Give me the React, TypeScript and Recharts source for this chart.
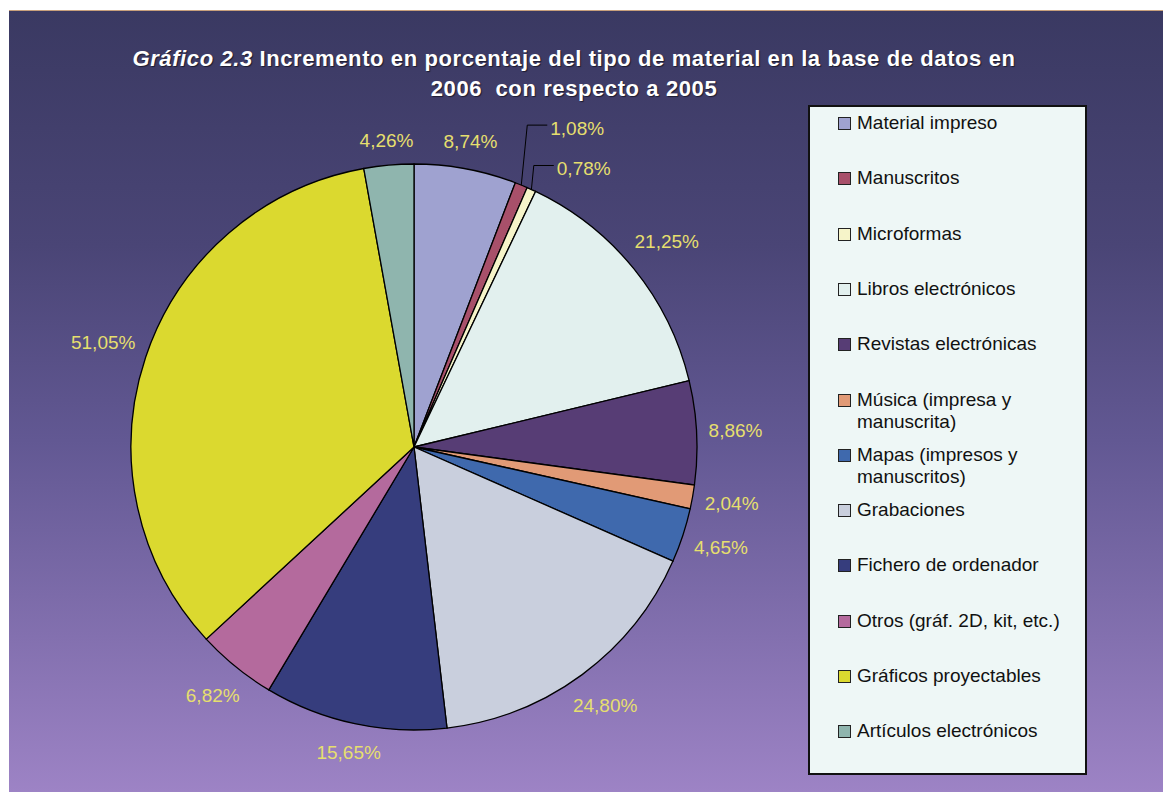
import React from 'react';
import { PieChart, Pie, Cell, Legend } from 'recharts';

const categories = [
  'Material impreso',
  'Manuscritos',
  'Microformas',
  'Libros electrónicos',
  'Revistas electrónicas',
  'Música (impresa y manuscrita)',
  'Mapas (impresos y manuscritos)',
  'Grabaciones',
  'Fichero de ordenador',
  'Otros (gráf. 2D, kit, etc.)',
  'Gráficos proyectables',
  'Artículos electrónicos',
];

const increments = [8.74, 1.08, 0.78, 21.25, 8.86, 2.04, 4.65, 24.8, 15.65, 6.82, 51.05, 4.26];

const colors = [
  '#9fa2d0',
  '#a8506a',
  '#f6f4c9',
  '#e2f0ee',
  '#573d75',
  '#e19a76',
  '#3f69ad',
  '#c9cfdd',
  '#363d7d',
  '#b46a9d',
  '#dbd92f',
  '#8fb5ae',
];

const data = categories.map((name, i) => ({ name, value: increments[i] }));

const FONT = '"Liberation Sans", Arial, sans-serif';
const RAD = Math.PI / 180;
// small slices get a leader line pushed upwards
const leaderLift: Record<number, number> = { 1: 60, 2: 24 };

const fmt = (v: number) => v.toFixed(2).replace('.', ',') + '%';

// eslint-disable-next-line @typescript-eslint/no-explicit-any
const renderLabel = (props: any) => {
  const { cx, cy, midAngle, outerRadius, index, value } = props;
  const text = fmt(value);
  const cos = Math.cos(-midAngle * RAD);
  const sin = Math.sin(-midAngle * RAD);
  const lift = leaderLift[index];
  if (lift) {
    const ex = cx + outerRadius * cos;
    const ey = cy + outerRadius * sin;
    const bx = ex + lift * 0.1;
    const by = ey - lift;
    return (
      <g key={`l-${index}`}>
        <polyline points={`${ex},${ey} ${bx},${by} ${bx + 20},${by}`} fill="none" stroke="#000" strokeWidth={1} />
        <text x={bx + 23} y={by + 3} fill="#e6df6e" fontSize={19} fontFamily={FONT} dominantBaseline="central">
          {text}
        </text>
      </g>
    );
  }
  const halfW = text.length * 4.9;
  const d = outerRadius + 14 + Math.abs(cos) * halfW + Math.abs(sin) * 9;
  return (
    <text
      key={`l-${index}`}
      x={cx + d * cos}
      y={cy + d * sin}
      fill="#e6df6e"
      fontSize={19}
      fontFamily={FONT}
      textAnchor="middle"
      dominantBaseline="central"
    >
      {text}
    </text>
  );
};

// legend keeps the data order (not sorted)
const renderLegend = () => (
  <div
    style={{
      width: 279,
      height: 670,
      boxSizing: 'border-box',
      background: '#eef7f6',
      border: '2px solid #111',
      position: 'relative',
      fontFamily: FONT,
      fontSize: 19,
      color: '#111',
    }}
  >
    {categories.map((name, i) => (
      <div key={name} style={{ position: 'absolute', left: 28, top: 5 + i * 55.3, display: 'flex', alignItems: 'flex-start' }}>
        <span
          style={{
            display: 'inline-block',
            width: 11,
            height: 11,
            marginTop: 5,
            background: colors[i],
            border: '1.5px solid #222',
            marginRight: 6,
          }}
        />
        <span style={{ width: 222, lineHeight: '22px' }}>{name}</span>
      </div>
    ))}
  </div>
);

export default function App() {
  return (
    <div
      style={{
        position: 'absolute',
        left: 9,
        top: 10,
        width: 1154,
        height: 782,
        background: 'linear-gradient(180deg, #3a3962 0%, #4a4576 30%, #625893 55%, #9d83c5 100%)',
        borderTop: '1px solid #c8a07c',
        boxSizing: 'border-box',
        overflow: 'hidden',
      }}
    >
      <div
        style={{
          position: 'absolute',
          left: 0,
          width: 1130,
          top: 33,
          textAlign: 'center',
          color: '#fff',
          fontFamily: FONT,
          fontWeight: 'bold',
          fontSize: 22,
          letterSpacing: 0.6,
          lineHeight: '30px',
          textShadow: '1px 1px 1px rgba(0,0,0,0.55)',
        }}
      >
        <i>Gráfico 2.3</i> Incremento en porcentaje del tipo de material en la base de datos en
        <br />
        2006&nbsp; con respecto a 2005
      </div>
      <PieChart
        width={1154}
        height={781}
        margin={{ top: 0, right: 0, bottom: 0, left: 0 }}
        style={{ position: 'absolute', left: 0, top: 0 }}
      >
        <Pie
          data={data}
          dataKey="value"
          nameKey="name"
          cx={405}
          cy={436}
          outerRadius={283}
          startAngle={90}
          endAngle={-270}
          stroke="#000"
          strokeWidth={1.3}
          label={renderLabel}
          labelLine={false}
          isAnimationActive={false}
        >
          {data.map((d, i) => (
            <Cell key={d.name} fill={colors[i]} />
          ))}
        </Pie>
        <Legend
          content={renderLegend}
          layout="vertical"
          wrapperStyle={{ position: 'absolute', left: 799, top: 94, width: 279, height: 670 }}
        />
      </PieChart>
    </div>
  );
}
